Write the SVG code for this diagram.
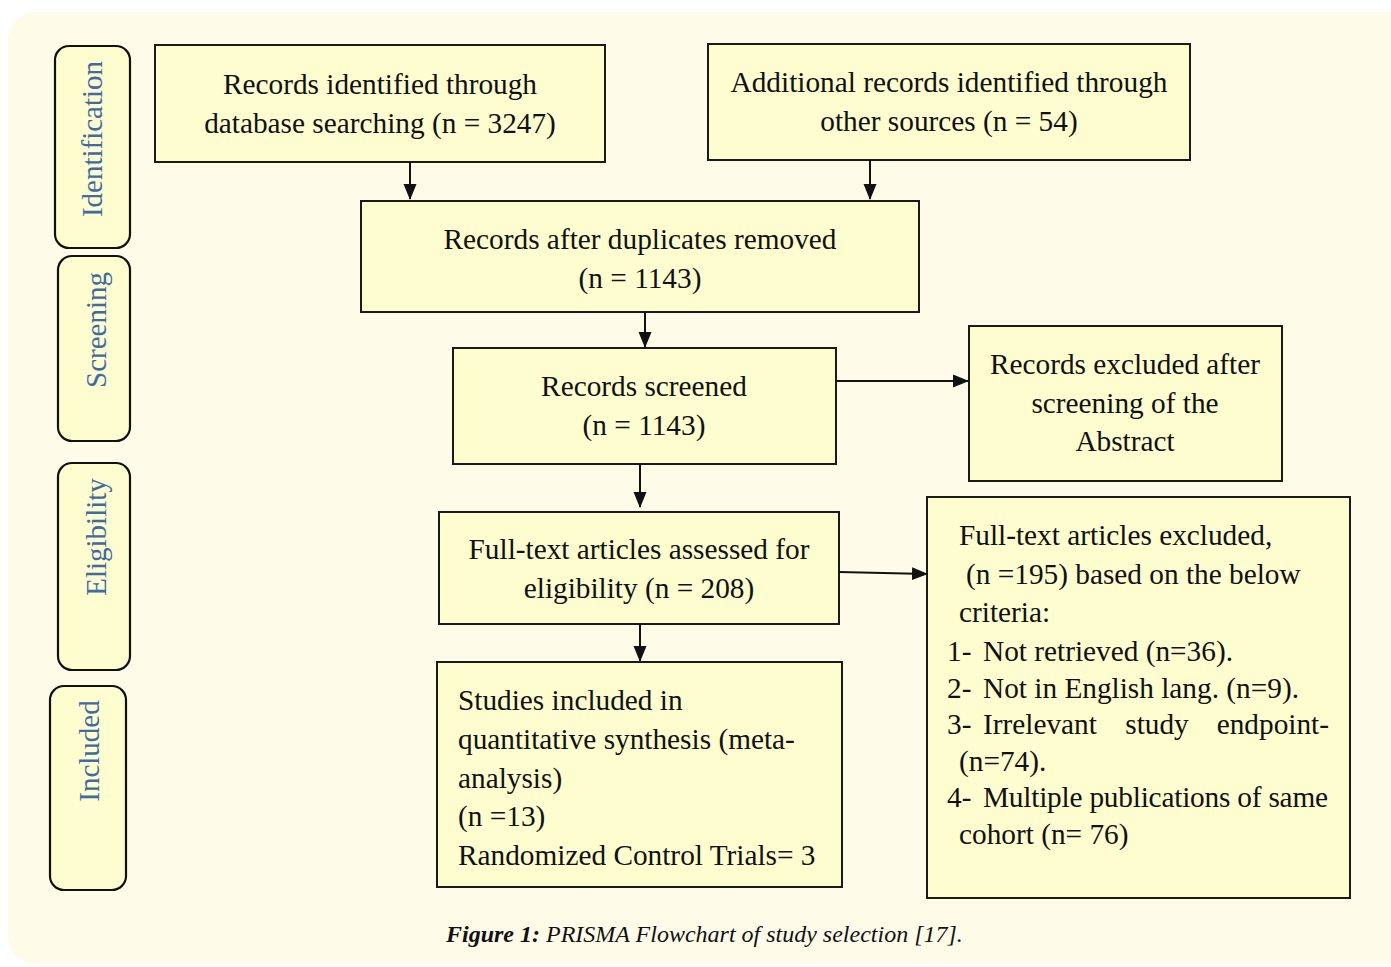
<svg xmlns="http://www.w3.org/2000/svg" width="1391" height="967" viewBox="0 0 1391 967">
<defs>
<style>
.bg{fill:#fefbe9}
.box{fill:#fefdd0;stroke:#1a1a1a;stroke-width:2}
.side{fill:#fefdd0;stroke:#111;stroke-width:2.2}
.t{font-family:"Liberation Serif",serif;font-size:29.3px;fill:#111}
.c{text-anchor:middle}
.s{font-family:"Liberation Serif",serif;font-size:29px;fill:#3f6aa3;text-anchor:middle}
.cap{font-family:"Liberation Serif",serif;font-size:24px;font-style:italic;fill:#111}
.ln{stroke:#111;stroke-width:2;fill:none;marker-end:url(#ah)}
</style>
<marker id="ah" markerWidth="16" markerHeight="16" refX="15" refY="8" orient="auto" markerUnits="userSpaceOnUse" viewBox="0 0 16 16">
<path d="M0,1.5 L16,8 L0,14.5 Z" fill="#111"/>
</marker>
</defs>
<rect class="bg" x="8" y="12" width="1410" height="952" rx="28"/>

<g id="stage-identification">
<rect class="side" x="55" y="46" width="75" height="202" rx="14"/>
<text class="s" transform="translate(102,139) rotate(-90)">Identification</text>
</g>
<g id="stage-screening">
<rect class="side" x="58" y="256" width="72" height="185" rx="14"/>
<text class="s" transform="translate(106,330) rotate(-90)">Screening</text>
</g>
<g id="stage-eligibility">
<rect class="side" x="58" y="463" width="72" height="207" rx="14"/>
<text class="s" transform="translate(106,537) rotate(-90)">Eligibility</text>
</g>
<g id="stage-included">
<rect class="side" x="50" y="686" width="76" height="204" rx="14"/>
<text class="s" transform="translate(99,751) rotate(-90)">Included</text>
</g>

<g id="box-database">
<rect class="box" x="155" y="45" width="450" height="117"/>
<text class="t c" x="380" y="94">Records identified through</text>
<text class="t c" x="380" y="133">database searching (n = 3247)</text>
</g>
<g id="box-other">
<rect class="box" x="708" y="44" width="482" height="116"/>
<text class="t c" x="949" y="92">Additional records identified through</text>
<text class="t c" x="949" y="131">other sources (n = 54)</text>
</g>
<g id="box-duplicates">
<rect class="box" x="361" y="201" width="558" height="111"/>
<text class="t c" x="640" y="249">Records after duplicates removed</text>
<text class="t c" x="640" y="288">(n = 1143)</text>
</g>
<g id="box-screened">
<rect class="box" x="453" y="348" width="383" height="116"/>
<text class="t c" x="644" y="396">Records screened</text>
<text class="t c" x="644" y="435">(n = 1143)</text>
</g>
<g id="box-excluded-abstract">
<rect class="box" x="969" y="326" width="313" height="155"/>
<text class="t c" x="1125" y="374">Records excluded after</text>
<text class="t c" x="1125" y="413">screening of the</text>
<text class="t c" x="1125" y="451">Abstract</text>
</g>
<g id="box-fulltext">
<rect class="box" x="439" y="512" width="400" height="112"/>
<text class="t c" x="639" y="559">Full-text articles assessed for</text>
<text class="t c" x="639" y="598">eligibility (n = 208)</text>
</g>
<g id="box-included">
<rect class="box" x="437" y="662" width="405" height="225"/>
<text class="t" x="458" y="710">Studies included in</text>
<text class="t" x="458" y="749">quantitative synthesis (meta-</text>
<text class="t" x="458" y="788">analysis)</text>
<text class="t" x="458" y="826">(n =13)</text>
<text class="t" x="458" y="865">Randomized Control Trials= 3</text>
</g>
<g id="box-excluded-fulltext">
<rect class="box" x="927" y="497" width="423" height="401"/>
<text class="t" x="959" y="545">Full-text articles excluded,</text>
<text class="t" x="966" y="584">(n =195) based on the below</text>
<text class="t" x="959" y="622">criteria:</text>
<text class="t" x="947" y="661">1-</text><text class="t" x="983" y="661">Not retrieved (n=36).</text>
<text class="t" x="947" y="698">2-</text><text class="t" x="983" y="698">Not in English lang. (n=9).</text>
<text class="t" x="947" y="734">3-</text><text class="t" x="983" y="734">Irrelevant</text><text class="t c" x="1157" y="734">study</text><text class="t" x="1329" y="734" text-anchor="end">endpoint-</text>
<text class="t" x="959" y="771">(n=74).</text>
<text class="t" x="947" y="807">4-</text><text class="t" x="983" y="807" textLength="345" lengthAdjust="spacing">Multiple publications of same</text>
<text class="t" x="959" y="844">cohort (n= 76)</text>
</g>

<g id="connectors">
<line class="ln" x1="410" y1="162" x2="410" y2="199"/>
<line class="ln" x1="870" y1="160" x2="870" y2="199"/>
<line class="ln" x1="645" y1="312" x2="645" y2="347"/>
<line class="ln" x1="836" y1="381" x2="968" y2="381"/>
<line class="ln" x1="640" y1="464" x2="640" y2="507"/>
<line class="ln" x1="839" y1="572" x2="927" y2="574"/>
<line class="ln" x1="640" y1="624" x2="640" y2="661"/>
</g>

<text class="cap" x="446" y="942"><tspan font-weight="bold">Figure 1:</tspan> PRISMA Flowchart of study selection [17].</text>
</svg>
